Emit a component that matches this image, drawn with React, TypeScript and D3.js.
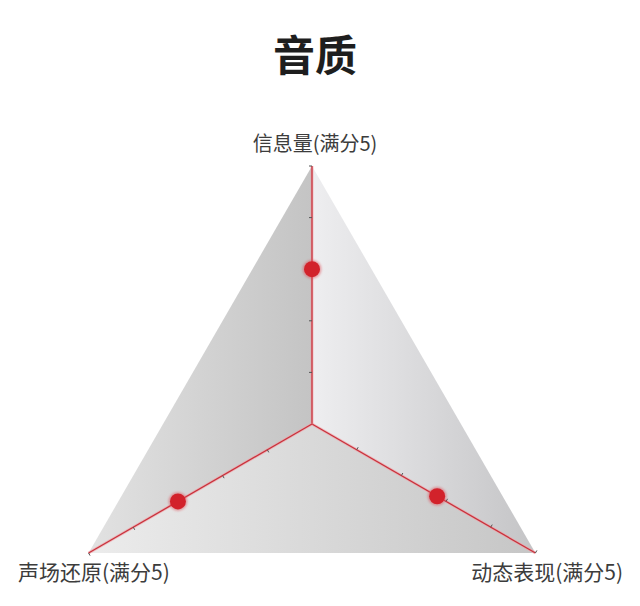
import React from "react";
import * as d3 from "d3";

const title = "音质";
const axes = ["信息量(满分5)", "动态表现(满分5)", "声场还原(满分5)"];
const values = [3, 2.8, 3];
const maxValue = 5;
const tickValues = [1, 2, 3, 4];

const W = 640;
const H = 606;
const cx = 312;
const cy = 424;
const R = 258;

export default function App() {
  const r = d3.scaleLinear().domain([0, maxValue]).range([0, R]);
  const angle = d3
    .scaleOrdinal<string, number>()
    .domain(axes)
    .range([-90, 30, 150].map((a) => (a * Math.PI) / 180));
  const pt = (name: string, v: number): [number, number] => {
    const a = angle(name);
    return [cx + r(v) * Math.cos(a), cy + r(v) * Math.sin(a)];
  };
  const [top, br, bl] = axes.map((a) => pt(a, maxValue));
  const c: [number, number] = [cx, cy];
  const line = d3.line();

  const font = "'Noto Sans CJK SC', 'Noto Sans', sans-serif";

  return (
    <svg
      width={W}
      height={H}
      style={{ position: "absolute", left: 0, top: 0, background: "#fff" }}
    >
      <defs>
        <linearGradient id="gl" gradientUnits="userSpaceOnUse" x1={bl[0]} y1={0} x2={cx} y2={0}>
          <stop offset="0" stopColor="#e2e2e2" />
          <stop offset="1" stopColor="#c4c4c4" />
        </linearGradient>
        <linearGradient id="gr" gradientUnits="userSpaceOnUse" x1={cx} y1={0} x2={br[0]} y2={0}>
          <stop offset="0" stopColor="#eeeef0" />
          <stop offset="1" stopColor="#c4c4c6" />
        </linearGradient>
        <linearGradient id="gb" gradientUnits="userSpaceOnUse" x1={bl[0]} y1={0} x2={br[0]} y2={0}>
          <stop offset="0" stopColor="#ececec" />
          <stop offset="0.5" stopColor="#d9d9d9" />
          <stop offset="1" stopColor="#c6c6c6" />
        </linearGradient>
        <filter id="glow" x="-50%" y="-50%" width="200%" height="200%">
          <feGaussianBlur stdDeviation="0.8" />
        </filter>
      </defs>

      <text
        x={315}
        y={71}
        textAnchor="middle"
        fontFamily={font}
        fontWeight={700}
        fontSize={42}
        fill="#1e1e1e"
      >
        {title}
      </text>

      <path d={line([top, c, bl]) + "Z"} fill="url(#gl)" />
      <path d={line([top, br, c]) + "Z"} fill="url(#gr)" />
      <path d={line([c, br, bl]) + "Z"} fill="url(#gb)" />

      {axes.map((a) => {
        const end = pt(a, maxValue);
        const ang = angle(a);
        const nx = -Math.sin(ang);
        const ny = Math.cos(ang);
        return (
          <g key={a}>
            <line x1={cx} y1={cy} x2={end[0]} y2={end[1]} stroke="#f2a0a6" strokeWidth={3} opacity={0.6} />
            <line x1={cx} y1={cy} x2={end[0]} y2={end[1]} stroke="#c8323c" strokeWidth={1.3} />
            {tickValues.concat([maxValue]).map((t) => {
              const [x, y] = pt(a, t);
              return (
                <line
                  key={t}
                  x1={x}
                  y1={y}
                  x2={x - nx * 3}
                  y2={y - ny * 3}
                  stroke="#555"
                  strokeWidth={1}
                />
              );
            })}
          </g>
        );
      })}

      {axes.map((a, i) => {
        const [x, y] = pt(a, values[i]);
        return (
          <g key={"p" + a}>
            <circle cx={x} cy={y} r={9.5} fill="#e0505a" opacity={0.5} filter="url(#glow)" />
            <circle cx={x} cy={y} r={8} fill="#d2222b" />
          </g>
        );
      })}

      <text x={315} y={151} textAnchor="middle" fontFamily={font} fontSize={20} fill="#3c3c3c">
        {axes[0]}
      </text>
      <text x={623} y={580} textAnchor="end" fontFamily={font} fontSize={21} fill="#3c3c3c">
        {axes[1]}
      </text>
      <text x={18} y={580} textAnchor="start" fontFamily={font} fontSize={21} fill="#3c3c3c">
        {axes[2]}
      </text>
    </svg>
  );
}
